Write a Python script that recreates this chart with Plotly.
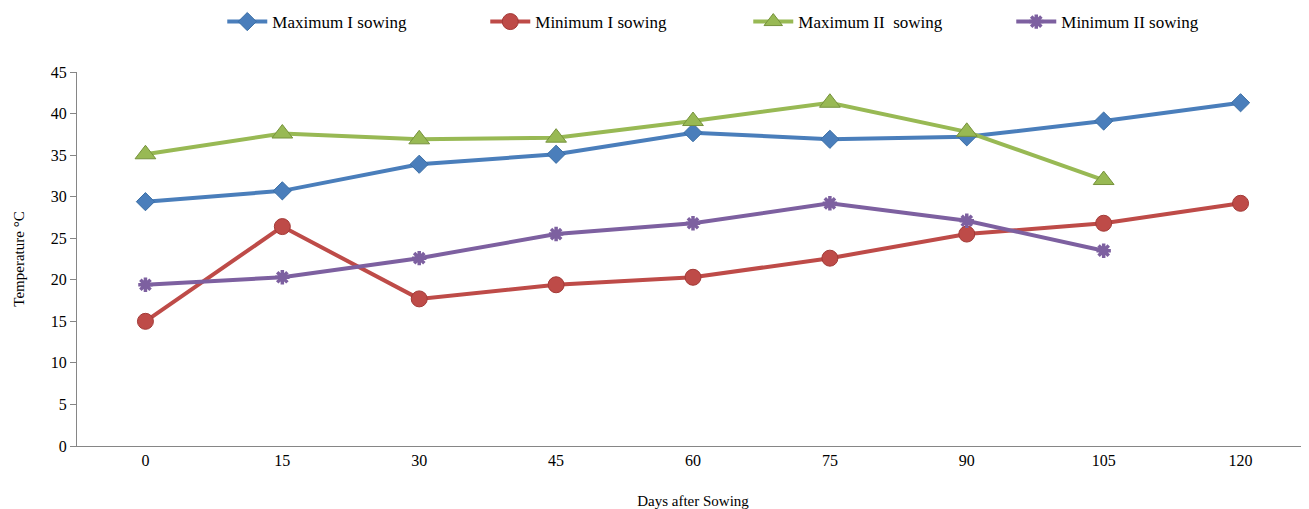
import plotly.graph_objects as go

days = ["0", "15", "30", "45", "60", "75", "90", "105", "120"]
max_i = [29.4, 30.7, 33.9, 35.1, 37.7, 36.9, 37.2, 39.1, 41.3]
min_i = [15.0, 26.4, 17.7, 19.4, 20.3, 22.6, 25.5, 26.8, 29.2]
max_ii = [35.1, 37.6, 36.9, 37.1, 39.1, 41.3, 37.8, 32.0]
min_ii = [19.4, 20.3, 22.6, 25.5, 26.8, 29.2, 27.1, 23.5]

series = [
    ("Maximum I sowing", days, max_i, "#4a7ebb", "diamond", 14, "#3a6ea5"),
    ("Minimum I sowing", days, min_i, "#be4b48", "circle", 16, "#a33a37"),
    ("Maximum II  sowing", days[:8], max_ii, "#98b954", "triangle-up", 18, "#76923c"),
    ("Minimum II sowing", days[:8], min_ii, "#7d60a0", "asterisk", 12, "#7d60a0"),
]

fig = go.Figure()
for name, x, y, col, sym, size, lcol in series:
    marker = dict(symbol=sym, size=size, color=col, line=dict(color=lcol, width=1))
    if sym == "asterisk":
        marker = dict(symbol="asterisk", size=size, color=col, line=dict(color=col, width=3.5))
    fig.add_trace(go.Scatter(x=x, y=y, name=name, mode="lines+markers",
                             line=dict(color=col, width=4), marker=marker))

fig.update_layout(
    width=1301, height=501,
    paper_bgcolor="white", plot_bgcolor="white",
    margin=dict(l=69, r=0, t=64, b=63),
    font=dict(family="Liberation Serif, Times New Roman, serif", size=16, color="#000000"),
    legend=dict(orientation="h", x=0.569, xref="container", xanchor="center",
                y=0.972, yref="container", yanchor="middle", font=dict(size=17),
                itemwidth=40, entrywidthmode="pixels", entrywidth=208),
    xaxis=dict(type="category", categoryorder="array", categoryarray=days,
               range=[-0.5, 8.5], showline=True, linecolor="#868686", linewidth=1,
               showgrid=False, ticks="", zeroline=False,
               title=dict(text="Days after Sowing", standoff=27, font=dict(size=15))),
    yaxis=dict(range=[0, 45], dtick=5, showline=True, linecolor="#868686", linewidth=1,
               showgrid=False, ticks="outside", ticklen=6, tickcolor="#868686",
               zeroline=False,
               title=dict(text="Temperature °C", standoff=22, font=dict(size=15))),
)

fig.write_html("out.html")
